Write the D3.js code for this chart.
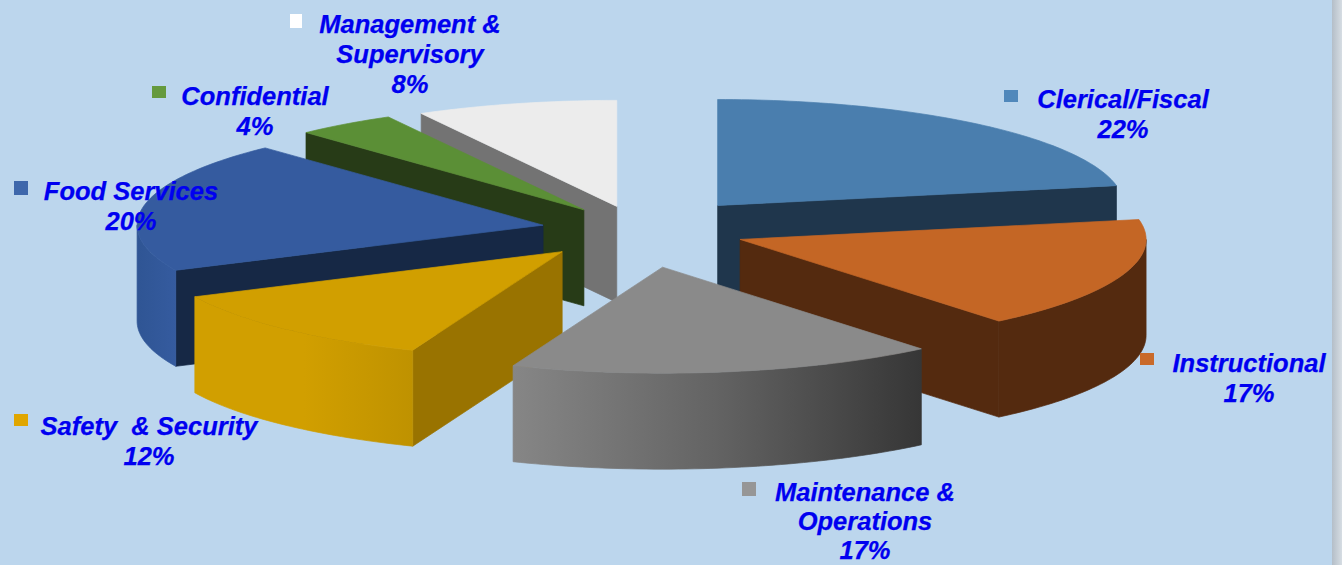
<!DOCTYPE html>
<html>
<head>
<meta charset="utf-8">
<title>Staff by employee group</title>
<script src="https://cdn.jsdelivr.net/npm/d3@7"></script>
<style>
  html, body { margin: 0; padding: 0; background: #bcd6ed; overflow: hidden; }
  svg { display: block; }
  text { font-family: "Liberation Sans", Arial, sans-serif; font-weight: bold; font-style: italic; font-size: 25.5px; fill: #0000f0; stroke: #0000f0; stroke-width: 0.25px; text-anchor: middle; }
</style>
</head>
<body>
<svg id="chart" width="1342" height="565"></svg>
<script>
// Share of staff per employee group, clockwise from twelve o'clock.
const categories = ["Clerical/Fiscal", "Instructional", "Maintenance & Operations", "Safety & Security", "Food Services", "Confidential", "Management & Supervisory"];
const percentages = [22, 17, 17, 12, 20, 4, 8];
const labelLines = [["Clerical/Fiscal"], ["Instructional"], ["Maintenance &", "Operations"], ["Safety  & Security"], ["Food Services"], ["Confidential"], ["Management &", "Supervisory"]];

// Slice appearance.
const topColors = ["#4a7eae", "#c46625", "#8a8a8a", "#d19f00", "#355b9f", "#5b8f36", "#ececec"];
const wallColors = ["#1f364c", "#542a0f", "#5a5a5a", "#997300", "#162845", "#273b17", "#737373"];
const rimStops = [["#1f364c"], ["#542a0f"], ["#868686", "#636363", "#363636"], ["#d19f00", "#d19f00", "#bf9200"], ["#2f5594", "#355b9f"], ["#273b17"], ["#737373"]];
const swatchColors = ["#5088bb", "#c96a2a", "#969696", "#e0a600", "#3e67ab", "#659a3e", "#ffffff"];
const explode = [0.30, 0.262, 0.355, 0.28, 0.243, 0.235, 0.23];
const paintOrder = [6, 5, 0, 4, 1, 3, 2];

// Label placement: text centre, first baseline, line spacing, swatch corner and size.
const labelCentres = [[1123, 108], [1249, 372], [865, 501], [149, 435], [131, 200], [255, 105], [410, 33]];
const labelGaps = [30, 30, 29, 30, 30, 30, 30];
const swatchBoxes = [[1004, 90, 14, 12], [1140, 353, 14, 12], [742, 482, 14, 14], [14, 414, 14, 12], [14, 181, 14, 14], [152, 86, 14, 12], [290, 14, 12, 14]];

const width = 1342, height = 565;
const centreX = 640, centreY = 230, radiusX = 406, radiusY = 106, depth = 96;

const svg = d3.select("#chart");
svg.append("rect").attr("width", width).attr("height", height).attr("fill", "#bcd6ed");

// Grey page edge along the right side.
const defs = svg.append("defs");
const edge = defs.append("linearGradient").attr("id", "page-edge");
edge.append("stop").attr("offset", 0).attr("stop-color", "#b4bec8");
edge.append("stop").attr("offset", 1).attr("stop-color", "#d6dde3");
svg.append("rect").attr("x", 1332).attr("width", 10).attr("height", height).attr("fill", "url(#page-edge)");

// Tilted-disc projection: unit-circle coordinates to screen coordinates.
const sx = d3.scaleLinear().domain([-1, 1]).range([-radiusX, radiusX]);
const sy = d3.scaleLinear().domain([-1, 1]).range([radiusY, -radiusY]);
const line = d3.line().x(d => d[0]).y(d => d[1]);

const slices = d3.pie().sort(null).value(d => d)(percentages);

// Points along the rim between two angles, for a slice with apex (ax, ay).
function rim(ax, ay, a0, a1, drop) {
  const n = Math.max(2, Math.ceil((a1 - a0) / 0.02));
  return d3.range(n + 1).map(i => {
    const a = a0 + (a1 - a0) * i / n;
    return [ax + sx(Math.sin(a)), ay + sy(Math.cos(a)) + drop];
  });
}

rimStops.forEach((stops, i) => {
  const g = defs.append("linearGradient").attr("id", "rim-" + i);
  stops.forEach((c, j) => g.append("stop")
    .attr("offset", stops.length > 1 ? j / (stops.length - 1) : 0)
    .attr("stop-color", c));
});

const pieGroup = svg.append("g");

paintOrder.forEach(i => {
  const s = slices[i];
  const mid = (s.startAngle + s.endAngle) / 2;
  const ax = centreX + explode[i] * sx(Math.sin(mid));
  const ay = centreY + explode[i] * sy(Math.cos(mid));
  const g = pieGroup.append("g").attr("class", "slice");

  // Faces are stroked in their own fill so neighbouring faces close up without a seam.
  const face = (d, fill) => g.append("path").attr("d", d).attr("fill", fill)
    .attr("stroke", fill).attr("stroke-width", 0.7).attr("stroke-linejoin", "round");

  // Radial cut faces, only where they turn towards the viewer.
  const wall = a => {
    const top = rim(ax, ay, a, a, 0)[0];
    return line([[ax, ay], top, [top[0], top[1] + depth], [ax, ay + depth]]) + "Z";
  };
  if (Math.sin(s.startAngle) < -1e-6) face(wall(s.startAngle), wallColors[i]);
  if (Math.sin(s.endAngle) > 1e-6) face(wall(s.endAngle), wallColors[i]);

  // Curved outer face: the part of the rim on the near half of the disc.
  const a0 = Math.max(s.startAngle, Math.PI / 2);
  const a1 = Math.min(s.endAngle, Math.PI * 1.5);
  if (a1 > a0) {
    const upper = rim(ax, ay, a0, a1, 0);
    const lower = rim(ax, ay, a0, a1, depth).reverse();
    face(line(upper.concat(lower)) + "Z", `url(#rim-${i})`);
  }

  // Top face.
  face(line([[ax, ay]].concat(rim(ax, ay, s.startAngle, s.endAngle, 0))) + "Z", topColors[i]);
});

// Labels: swatch, name lines and the percentage below them.
const labels = svg.append("g");
categories.forEach((name, i) => {
  const b = swatchBoxes[i];
  labels.append("rect").attr("x", b[0]).attr("y", b[1]).attr("width", b[2]).attr("height", b[3]).attr("fill", swatchColors[i]);
  const [x, y] = labelCentres[i];
  labelLines[i].concat([percentages[i] + "%"]).forEach((t, k) => {
    labels.append("text").attr("x", x).attr("y", y + k * labelGaps[i]).style("white-space", "pre").text(t);
  });
});
</script>
</body>
</html>
